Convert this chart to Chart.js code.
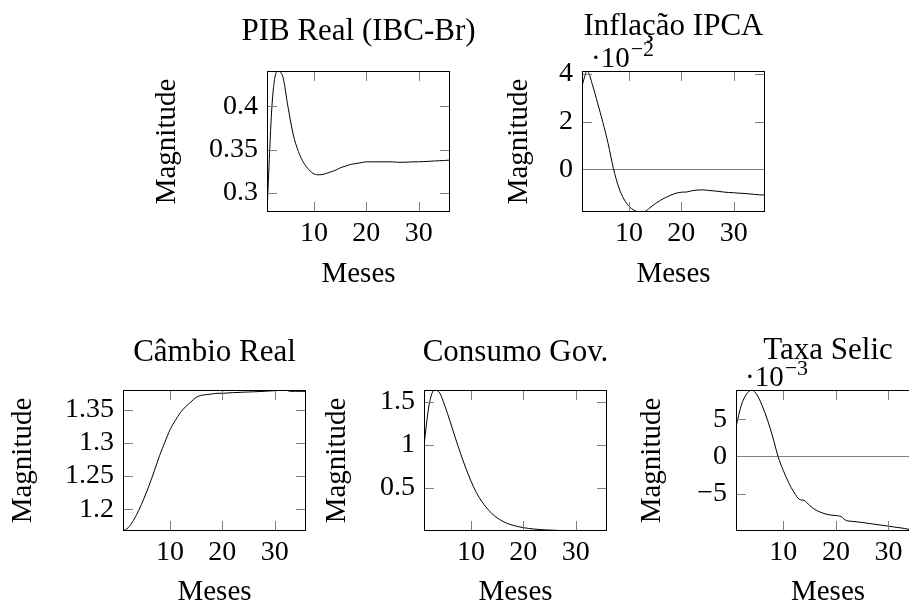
<!DOCTYPE html>
<html>
<head>
<meta charset="utf-8">
<script src="https://cdn.jsdelivr.net/npm/chart.js@4.4.0/dist/chart.umd.min.js"></script>
<style>
  html, body { margin: 0; padding: 0; background: #fff; overflow: hidden; }
  #wrap { position: relative; width: 909px; height: 605px; overflow: hidden; }
  #wrap canvas { position: absolute; }
</style>
</head>
<body>
<div id="wrap"></div>
<script>
// ---- data (impulse responses, 36 months) ----
const meses = [1,2,3,4,5,6,7,8,9,10,11,12,13,14,15,16,17,18,19,20,21,22,23,24,25,26,27,28,29,30,31,32,33,34,35,36];

const pib = [0.278,0.405,0.441,0.435,0.400,0.368,0.348,0.335,0.327,0.322,0.321,0.322,
             0.324,0.326,0.329,0.331,0.333,0.334,0.335,0.336,0.336,0.336,0.336,0.336,
             0.336,0.3355,0.3355,0.3357,0.336,0.336,0.3363,0.3366,0.337,0.3373,0.3376,0.338];

const inflacao = [0.0350,0.0413,0.0355,0.0277,0.0197,0.0108,0.0005,-0.0074,-0.0124,-0.0155,-0.0172,-0.0179,
                  -0.0177,-0.0161,-0.0144,-0.0130,-0.0118,-0.0108,-0.0100,-0.0096,-0.0095,-0.0090,-0.0087,-0.0086,
                  -0.0088,-0.0090,-0.0092,-0.0095,-0.0097,-0.0098,-0.0100,-0.0101,-0.0103,-0.0105,-0.0107,-0.0108];

const cambio = [1.167,1.172,1.183,1.198,1.216,1.236,1.258,1.281,1.301,1.320,1.334,1.346,
                1.355,1.362,1.369,1.372,1.373,1.374,1.375,1.375,1.3755,1.376,1.3763,1.3767,
                1.377,1.3773,1.3777,1.378,1.3785,1.379,1.3795,1.380,1.378,1.378,1.378,1.378];

const consumo = [1.00,1.47,1.635,1.60,1.45,1.27,1.08,0.90,0.73,0.58,0.45,0.35,
                 0.27,0.205,0.155,0.118,0.090,0.070,0.055,0.043,0.034,0.027,0.022,0.018,
                 0.015,0.012,0.010,0.009,0.008,0.007,0.006,0.0055,0.005,0.0045,0.0042,0.004];

const selic = [0.0040,0.0069,0.0084,0.00896,0.0083,0.0068,0.0049,0.0026,0.0000,-0.0019,-0.0035,-0.0048,
               -0.00575,-0.00595,-0.0066,-0.00715,-0.0075,-0.00775,-0.0079,-0.00797,-0.0081,-0.00865,-0.00874,-0.00882,
               -0.0089,-0.0090,-0.0091,-0.0092,-0.0093,-0.0094,-0.0095,-0.0096,-0.0097,-0.00985,-0.00995,-0.01005];

const xTicks = [10, 20, 30];
const pibTicks = [0.3, 0.35, 0.4];
const inflTicks = [0, 0.02, 0.04];
const cambioTicks = [1.2, 1.25, 1.3, 1.35];
const consumoTicks = [0.5, 1, 1.5];
const selicTicks = [-0.005, 0, 0.005];

// ---- look ----
const FONT = 'Liberation Serif';
const TICK_SIZE = 28, LABEL_SIZE = 29, TITLE_SIZE = 31;
const TICK_LEN = 10;
const GRAY = '#808080';

// plot area [left, top, right, bottom], title centre y, y-label centre x, x-label centre y
const LAYOUT = {
  pib:     { plot: [267, 71, 450, 212],  titleY: 32,  yTitleX: 167, xTitleY: 275 },
  infl:    { plot: [582, 71, 765, 212],  titleY: 27,  yTitleX: 519, xTitleY: 275 },
  cambio:  { plot: [123, 390, 306, 531], titleY: 353, yTitleX: 23,  xTitleY: 593 },
  consumo: { plot: [424, 390, 607, 531], titleY: 353, yTitleX: 337, xTitleY: 593 },
  selic:   { plot: [736, 390, 920, 531], titleY: 351, yTitleX: 652, xTitleY: 593 },
};

const fmt = v => String(+v.toFixed(4)).replace('-', '\u2212');

// frame, inward gray ticks on all four sides, panel title and the ·10^n scale label
const framePlugin = {
  id: 'frame',
  afterDatasetsDraw(chart, args, opts) {
    const { ctx, chartArea: a, scales: { x, y } } = chart;
    ctx.save();
    ctx.lineWidth = 1;
    ctx.strokeStyle = GRAY;
    ctx.beginPath();
    x.ticks.forEach(t => {
      const px = Math.round(x.getPixelForValue(t.value)) + 0.5;
      ctx.moveTo(px, a.top); ctx.lineTo(px, a.top + TICK_LEN);
      ctx.moveTo(px, a.bottom); ctx.lineTo(px, a.bottom - TICK_LEN);
    });
    y.ticks.forEach(t => {
      const py = Math.round(y.getPixelForValue(t.value)) + 0.5;
      ctx.moveTo(a.left, py); ctx.lineTo(a.left + TICK_LEN, py);
      ctx.moveTo(a.right, py); ctx.lineTo(a.right - TICK_LEN, py);
    });
    ctx.stroke();
    ctx.strokeStyle = '#000';
    ctx.strokeRect(a.left + 0.5, a.top + 0.5, a.right - a.left - 1, a.bottom - a.top - 1);

    ctx.fillStyle = '#000';
    ctx.textAlign = 'center';
    ctx.textBaseline = 'middle';
    ctx.font = `${TITLE_SIZE}px "${FONT}"`;
    ctx.fillText(opts.title, (a.left + a.right) / 2, opts.titleY);

    if (opts.exp) {
      ctx.textBaseline = 'alphabetic';
      ctx.textAlign = 'left';
      ctx.font = `${LABEL_SIZE}px "${FONT}"`;
      const base = '\u00b710';
      const bx = a.left + 9, by = a.top - 4;
      ctx.fillText(base, bx, by);
      const w = ctx.measureText(base).width;
      ctx.font = `22px "${FONT}"`;
      ctx.fillText('\u2212' + opts.exp, bx + w + 1, by - 11);
    }
    ctx.restore();
  }
};

function panel(key, title, values, yTicks, exp, zeroLine) {
  const L = LAYOUT[key];
  const [pl, pt, pr, pb] = L.plot;
  const lhL = LABEL_SIZE * 1.2;
  const top = Math.round(L.titleY - TITLE_SIZE);
  const left = Math.round(L.yTitleX - lhL / 2);
  const bottom = Math.round(L.xTitleY + lhL / 2);
  const padR = 40;

  const cv = document.createElement('canvas');
  cv.width = pr + padR - left;
  cv.height = bottom - top;
  cv.style.left = left + 'px';
  cv.style.top = top + 'px';
  document.getElementById('wrap').appendChild(cv);

  const scaleDiv = exp ? Math.pow(10, -exp) : 1;

  return new Chart(cv, {
    type: 'line',
    data: {
      datasets: [{
        data: meses.map((m, i) => ({ x: m, y: values[i] })),
        borderColor: '#000',
        borderWidth: 1,
        pointRadius: 0,
        cubicInterpolationMode: 'monotone',
        fill: false,
      }],
    },
    options: {
      responsive: false,
      animation: false,
      events: [],
      layout: { padding: { left: 0, top: pt - top, right: padR, bottom: 0 } },
      plugins: {
        legend: { display: false },
        tooltip: { enabled: false },
        title: { display: false },
        frame: { exp, title, titleY: L.titleY - top },
      },
      scales: {
        x: {
          type: 'linear',
          min: meses[0],
          max: meses[meses.length - 1],
          afterBuildTicks: s => { s.ticks = xTicks.map(v => ({ value: v })); },
          afterFit: s => { s.height = bottom - pb; },
          grid: { display: false, drawTicks: false },
          border: { display: false },
          ticks: {
            color: '#000', padding: 5, maxRotation: 0,
            font: { family: FONT, size: TICK_SIZE },
            callback: v => fmt(v),
          },
          title: {
            display: true, text: 'Meses', color: '#000', padding: 0,
            font: { family: FONT, size: LABEL_SIZE },
          },
        },
        y: {
          min: Math.min(...values),
          max: Math.max(...values),
          afterBuildTicks: s => { s.ticks = yTicks.map(v => ({ value: v })); },
          afterFit: s => { s.width = pl - left; },
          grid: {
            drawTicks: false,
            color: c => (zeroLine && c.tick && c.tick.value === 0) ? GRAY : 'transparent',
            lineWidth: 1,
          },
          border: { display: false },
          ticks: {
            color: '#000', padding: 9,
            font: { family: FONT, size: TICK_SIZE },
            callback: v => fmt(v / scaleDiv),
          },
          title: {
            display: true, text: 'Magnitude', color: '#000', padding: 0,
            font: { family: FONT, size: LABEL_SIZE },
          },
        },
      },
    },
    plugins: [framePlugin],
  });
}

panel('pib', 'PIB Real (IBC-Br)', pib, pibTicks, 0, false);
panel('infl', 'Inflação IPCA', inflacao, inflTicks, 2, true);
panel('cambio', 'Câmbio Real', cambio, cambioTicks, 0, false);
panel('consumo', 'Consumo Gov.', consumo, consumoTicks, 0, false);
panel('selic', 'Taxa Selic', selic, selicTicks, 3, true);
</script>
</body>
</html>
